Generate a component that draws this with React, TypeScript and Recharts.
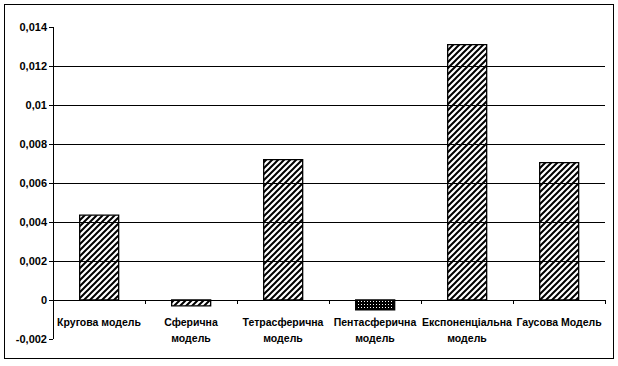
import { BarChart, Bar, Cell, XAxis, YAxis, ReferenceLine } from "recharts";

const models = [
  ["Кругова модель"],
  ["Сферична", "модель"],
  ["Тетрасферична", "модель"],
  ["Пентасферична", "модель"],
  ["Експоненціальна", "модель"],
  ["Гаусова Модель"],
];
const values = [0.00435, -0.0003, 0.0072, -0.0005, 0.0131, 0.00705];
const fills = ["hatch", "hatch", "hatch", "dots", "hatch", "hatch"];
const yTicks = [-0.002, 0, 0.002, 0.004, 0.006, 0.008, 0.01, 0.012, 0.014];
const gridValues = [0.002, 0.004, 0.006, 0.008, 0.01, 0.012];

const data = models.map((lines, i) => ({ name: lines.join(" "), lines, value: values[i] }));

const W = 618;
const H = 366;
const LEFT = 53;
const RIGHT = 13;
const BAND = (W - LEFT - RIGHT) / models.length;
const FONT = "'Liberation Sans', Arial, sans-serif";

const fmt = (v: number) => String(v).replace(".", ",");

function CategoryTick(props: any) {
  const { x, y, payload } = props;
  const row = data[payload.index] || data.find((d) => d.name === payload.value);
  const lines = row ? row.lines : [payload.value];
  // zero line sits one step (0.002) above the bottom of the plot
  const zeroY = y - 8 - 39;
  return (
    <g shapeRendering="crispEdges">
      <line x1={x - BAND / 2} x2={x - BAND / 2} y1={zeroY} y2={zeroY + 4} stroke="#000" />
      <line x1={x + BAND / 2} x2={x + BAND / 2} y1={zeroY} y2={zeroY + 4} stroke="#000" />
      {lines.map((t: string, i: number) => (
        <text
          key={i}
          x={x}
          y={zeroY + 26 + i * 16}
          textAnchor="middle"
          fontFamily={FONT}
          fontWeight="bold"
          fontSize={10.5}
          fill="#000"
        >
          {t}
        </text>
      ))}
    </g>
  );
}

export default function App() {
  return (
    <div style={{ position: "absolute", left: 0, top: 0, width: W, height: H, background: "#fff" }}>
      <div
        style={{
          position: "absolute",
          left: 4,
          top: 4,
          width: 608,
          height: 353,
          border: "1.5px solid #000",
        }}
      />
      <BarChart
        width={W}
        height={H}
        data={data}
        margin={{ top: 27, right: RIGHT, bottom: 0, left: 0 }}
        barCategoryGap="29%"
      >
        <defs>
          <pattern id="hatch" patternUnits="userSpaceOnUse" width="6" height="6">
            <rect width="6" height="6" fill="#fff" />
            <path d="M-1,7 L7,-1 M-4,4 L4,-4 M2,10 L10,2" stroke="#000" strokeWidth="2" />
          </pattern>
          <pattern id="dots" patternUnits="userSpaceOnUse" width="3" height="3">
            <rect width="3" height="3" fill="#000" />
            <rect x="1" y="1" width="1" height="1" fill="#fff" />
          </pattern>
        </defs>
        {gridValues.map((v) => (
          <ReferenceLine key={v} y={v} stroke="#000" strokeWidth={1} shapeRendering="crispEdges" />
        ))}
        <XAxis
          dataKey="name"
          axisLine={false}
          tickLine={false}
          interval={0}
          height={27}
          tick={<CategoryTick />}
        />
        <YAxis
          width={LEFT}
          domain={[-0.002, 0.014]}
          ticks={yTicks}
          interval={0}
          tickFormatter={fmt}
          axisLine={{ stroke: "#000", shapeRendering: "crispEdges" }}
          tickLine={{ stroke: "#000", shapeRendering: "crispEdges" }}
          tickSize={4}
          tick={{ fill: "#000", fontSize: 11, fontWeight: "bold", fontFamily: FONT }}
        />
        <Bar dataKey="value" stroke="#000" strokeWidth={1.3} isAnimationActive={false}>
          {data.map((d, i) => (
            <Cell key={d.name} fill={`url(#${fills[i]})`} />
          ))}
        </Bar>
        <ReferenceLine y={0} stroke="#000" strokeWidth={1} shapeRendering="crispEdges" />
      </BarChart>
    </div>
  );
}
